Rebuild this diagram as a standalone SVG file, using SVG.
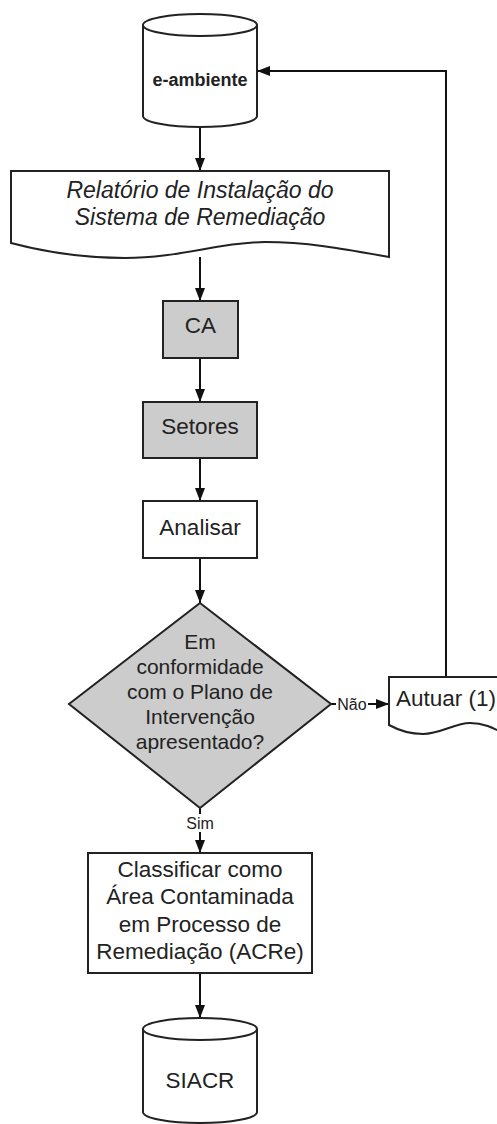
<svg xmlns="http://www.w3.org/2000/svg" width="497" height="1124" viewBox="0 0 497 1124">
  <defs>
    <marker id="arrow" markerUnits="userSpaceOnUse" viewBox="0 0 13 10" refX="13" refY="5" markerWidth="13" markerHeight="10" orient="auto">
      <path d="M0,0 L13,5 L0,10 z" fill="#111"/>
    </marker>
    <style>
      .shape { stroke: #222; stroke-width: 2; fill: #fff; }
      .gray { fill: #cccccc; }
      .edge { stroke: #111; stroke-width: 2; fill: none; marker-end: url(#arrow); }
      text { font-family: "Liberation Sans", Arial, sans-serif; fill: #222; text-anchor: middle; }
      .t22 { font-size: 22.5px; }
      .t21 { font-size: 21px; }
      .doc { font-size: 23px; font-style: italic; }
      .lbl { font-size: 16px; }
      .bg { fill: #fff; stroke: none; }
    </style>
  </defs>
  <rect width="497" height="1124" fill="#fff"/>

  <!-- connectors -->
  <g id="connectors">
    <path class="edge" d="M200,127 V171"/>
    <path class="edge" d="M200,257 V301"/>
    <path class="edge" d="M200,358 V402"/>
    <path class="edge" d="M200,458 V501"/>
    <path class="edge" d="M200,558 V603"/>
    <path class="edge" d="M331,704 H389"/>
    <path class="edge" d="M200,808 V853"/>
    <path class="edge" d="M200,973 V1018"/>
    <path class="edge" d="M446,677 V71 H257"/>
    <rect class="bg" x="336" y="696" width="32" height="18"/>
    <text class="lbl" x="352" y="710">Não</text>
    <rect class="bg" x="185" y="814" width="30" height="18"/>
    <text class="lbl" x="200" y="829">Sim</text>
  </g>

  <!-- data store: e-ambiente -->
  <g id="e-ambiente">
    <path class="shape" d="M143,25 V116 A57,11 0 0 0 257,116 V25"/>
    <ellipse class="shape" cx="200" cy="25" rx="57" ry="11"/>
    <text x="200" y="86" style="font-size:18px;font-weight:bold">e-ambiente</text>
  </g>

  <!-- document: relatório -->
  <g id="relatorio">
    <path class="shape" d="M11,171 H389 V257 C350,250 310,242 265,242 C220,242 180,258 125,258 C85,258 45,252 11,243 Z"/>
    <text class="doc" x="200" y="198">Relatório de Instalação do</text>
    <text class="doc" x="200" y="225">Sistema de Remediação</text>
  </g>

  <!-- CA -->
  <g id="ca">
    <rect class="shape gray" x="163" y="301" width="75" height="57"/>
    <text class="t22" x="200.5" y="333">CA</text>
  </g>

  <!-- Setores -->
  <g id="setores">
    <rect class="shape gray" x="143" y="402" width="114" height="56"/>
    <text class="t22" x="200" y="434">Setores</text>
  </g>

  <!-- Analisar -->
  <g id="analisar">
    <rect class="shape" x="143" y="501" width="114" height="57"/>
    <text class="t22" x="200" y="535">Analisar</text>
  </g>

  <!-- decision -->
  <g id="decisao">
    <path class="shape gray" d="M200,603 L331,704 L200,808 L69,704 Z"/>
    <text class="t21" x="200" y="649">Em</text>
    <text class="t21" x="200" y="674">conformidade</text>
    <text class="t21" x="200" y="699">com o Plano de</text>
    <text class="t21" x="200" y="724">Intervenção</text>
    <text class="t21" x="200" y="749">apresentado?</text>
  </g>

  <!-- document: Autuar -->
  <g id="autuar">
    <path class="shape" d="M389,677 H507 V735 C495,729 485,723 470,723 C455,723 440,734 423,734 C410,734 400,731 389,725 Z"/>
    <text class="t22" x="446" y="706">Autuar (1)</text>
  </g>

  <!-- Classificar -->
  <g id="classificar">
    <rect class="shape" x="88" y="853" width="224" height="120"/>
    <text class="t22" x="200" y="877">Classificar como</text>
    <text class="t22" x="200" y="904">Área Contaminada</text>
    <text class="t22" x="200" y="932">em Processo de</text>
    <text class="t22" x="200" y="959">Remediação (ACRe)</text>
  </g>

  <!-- data store: SIACR -->
  <g id="siacr">
    <path class="shape" d="M143,1029 V1112 A57,11 0 0 0 257,1112 V1029"/>
    <ellipse class="shape" cx="200" cy="1029" rx="57" ry="11"/>
    <text class="t22" x="200" y="1088">SIACR</text>
  </g>
</svg>
